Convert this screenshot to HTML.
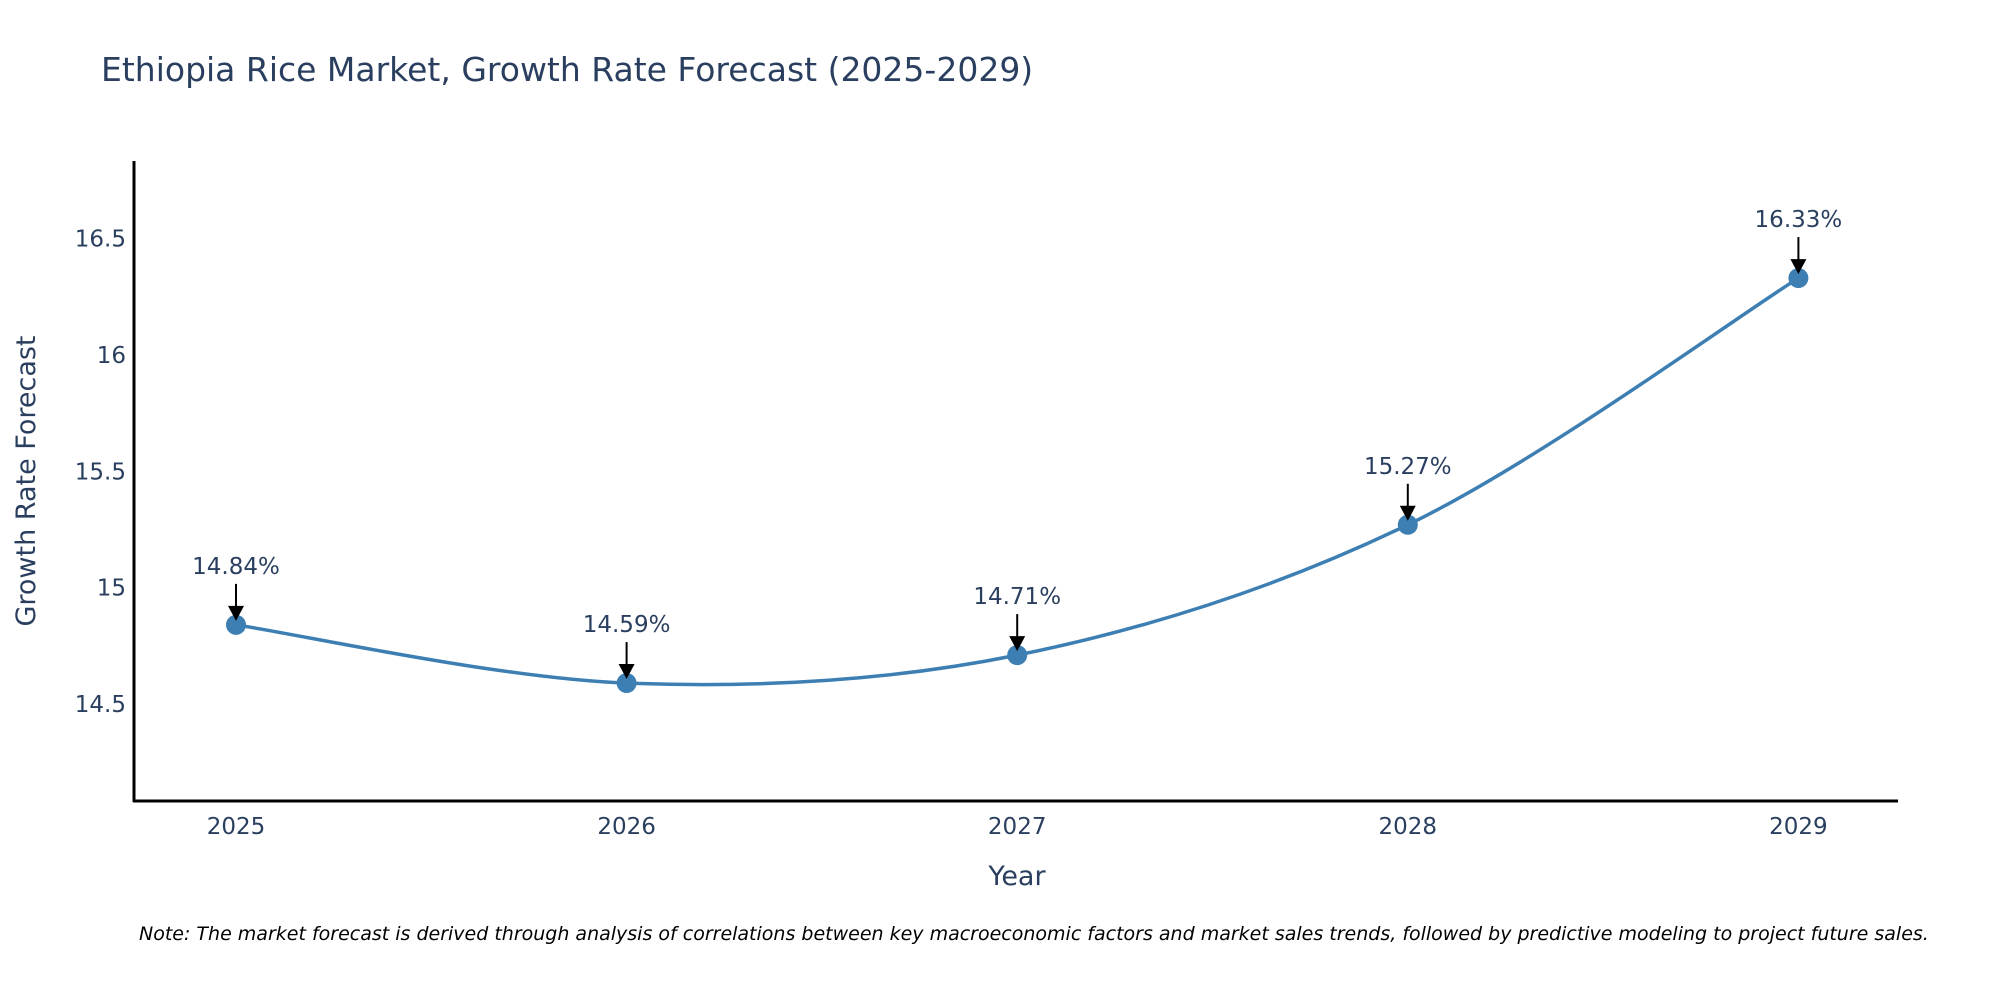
<!DOCTYPE html>
<html><head><meta charset="utf-8"><style>
body{margin:0;background:#fff;}
svg{display:block;font-family:"DejaVu Sans","Liberation Sans",sans-serif;}
</style></head><body>
<svg id="chart" width="2000" height="1000">
<text x="101" y="81" font-size="33" fill="#2a3f5f">Ethiopia Rice Market, Growth Rate Forecast (2025-2029)</text>
<g id="yticks"></g>
<g id="xticks"></g>
<path id="line" fill="none" stroke="#3d7fb3" stroke-width="3.5"></path>
<g id="marks"></g>
<line x1="134" y1="161" x2="134" y2="802" stroke="#000" stroke-width="3"/>
<line x1="133" y1="801" x2="1898" y2="801" stroke="#000" stroke-width="3"/>
<text x="1017" y="885" font-size="27" fill="#2a3f5f" text-anchor="middle">Year</text>
<text transform="translate(35,481) rotate(-90)" font-size="27" fill="#2a3f5f" text-anchor="middle">Growth Rate Forecast</text>
<text x="139" y="940" font-size="19" font-style="italic" fill="#000">Note: The market forecast is derived through analysis of correlations between key macroeconomic factors and market sales trends, followed by predictive modeling to project future sales.</text>
</svg>
<script>
const years = [2025, 2026, 2027, 2028, 2029];
const values = [14.84, 14.59, 14.71, 15.27, 16.33];
const labels = ["14.84%", "14.59%", "14.71%", "15.27%", "16.33%"];
const yTicks = [14.5, 15, 15.5, 16, 16.5];
const yTickLabels = ["14.5", "15", "15.5", "16", "16.5"];

const NS = "http://www.w3.org/2000/svg";
const X = y => 236 + (y - 2025) * 390.6;
const Y = v => 704 - (v - 14.5) * 232.75;
function mk(tag, attrs, parent){const e=document.createElementNS(NS,tag);for(const k in attrs)e.setAttribute(k,attrs[k]);parent.appendChild(e);return e;}

const yt = document.getElementById('yticks');
yTicks.forEach((v,i)=>{
  const t = mk('text',{x:126,y:Y(v)+8,'font-size':23,fill:'#2a3f5f','text-anchor':'end'},yt);
  
  
  t.textContent = yTickLabels[i];
});
const xt = document.getElementById('xticks');
years.forEach(y=>{
  const t = mk('text',{x:X(y),y:834,'font-size':23,fill:'#2a3f5f','text-anchor':'middle'},xt);
  
  
  t.textContent = String(y);
});

const pts = years.map((y,i)=>[X(y),Y(values[i])]);
let d = `M${pts[0][0]},${pts[0][1]}`;
for(let i=0;i<pts.length-1;i++){
  const p0=pts[Math.max(0,i-1)],p1=pts[i],p2=pts[i+1],p3=pts[Math.min(pts.length-1,i+2)];
  const s=1/6;
  const c1=[p1[0]+(p2[0]-p0[0])*s,p1[1]+(p2[1]-p0[1])*s];
  const c2=[p2[0]-(p3[0]-p1[0])*s,p2[1]-(p3[1]-p1[1])*s];
  d+=` C${c1[0]},${c1[1]} ${c2[0]},${c2[1]} ${p2[0]},${p2[1]}`;
}
document.getElementById('line').setAttribute('d', d);

const mg = document.getElementById('marks');
pts.forEach((p,i)=>{
  const c = mk('circle',{cx:p[0],cy:p[1],r:10,fill:'#3d7fb3'},mg);
  
  
  const l = mk('line',{x1:p[0],y1:p[1]-41,x2:p[0],y2:p[1]-14,stroke:'#000','stroke-width':2},mg);
  
  
  const h = mk('polygon',{points:`${p[0]-8},${p[1]-19} ${p[0]+8},${p[1]-19} ${p[0]},${p[1]-4}`,fill:'#000'},mg);
  
  
  const t = mk('text',{x:p[0],y:p[1]-51,'font-size':23,fill:'#2a3f5f','text-anchor':'middle'},mg);
  
  
  t.textContent = labels[i];
});
</script>
</body></html>
